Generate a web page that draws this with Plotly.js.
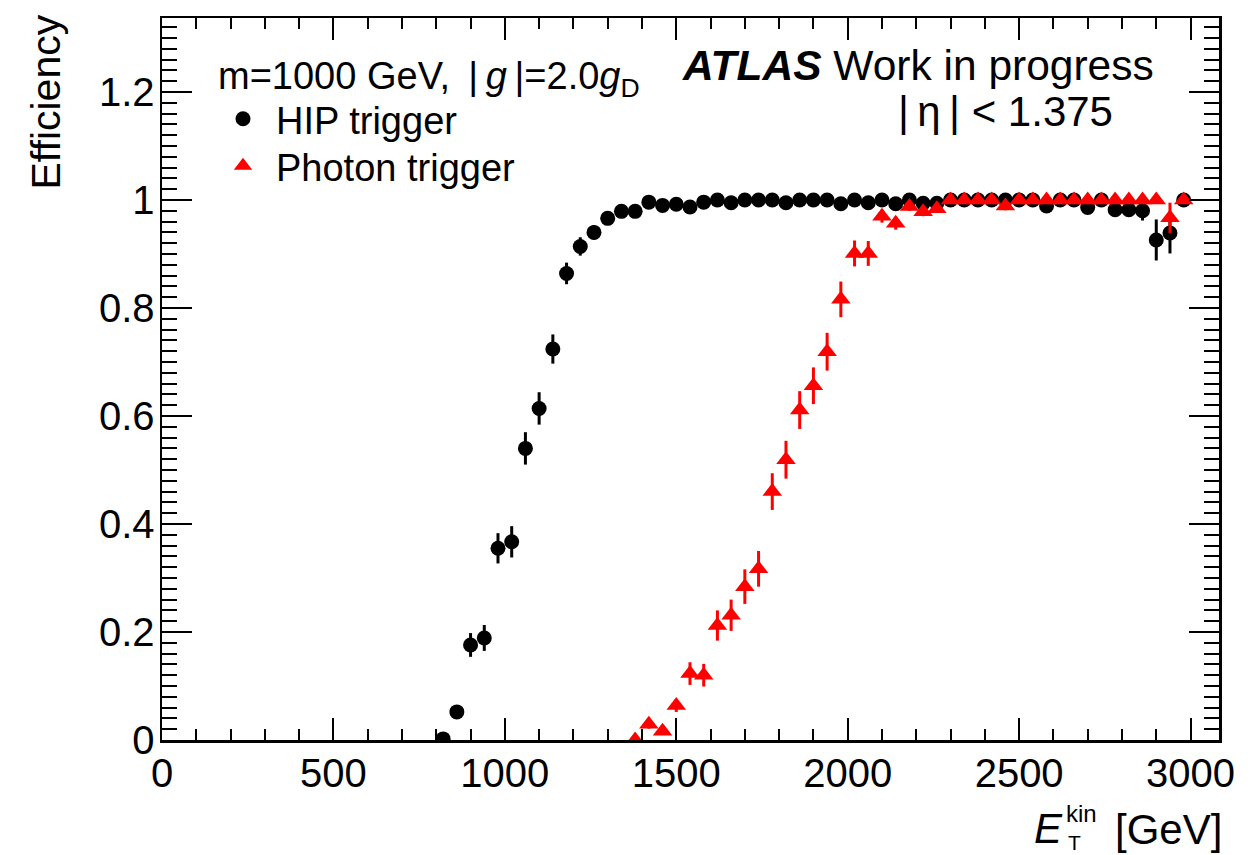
<!DOCTYPE html>
<html>
<head>
<meta charset="utf-8">
<script src="https://cdn.plot.ly/plotly-3.0.1.min.js"></script>
<style>html,body{margin:0;padding:0;background:#fff;}#plot{width:1258px;height:855px;}</style>
</head>
<body>
<div id="plot"></div>
<script>
// HIP trigger efficiency (bin centres in GeV)
const hipX = [820,860,900,940,980,1020,1060,1100,1140,1180,1220,1260,1300,1340,1380,1420,1460,1500,1540,1580,
  1620,1660,1700,1740,1780,1820,1860,1900,1940,1980,2020,2060,2100,2140,2180,2220,2260,2300,2340,2380,
  2420,2460,2500,2540,2580,2620,2660,2700,2740,2780,2820,2860,2900,2940,2980];
const hipY = [0.002,0.052,0.176,0.189,0.355,0.367,0.540,0.614,0.724,0.864,0.914,0.940,0.966,0.979,0.979,0.996,0.990,0.992,0.987,0.996,
  1.000,0.995,1.000,1.000,1.000,0.995,1.000,1.000,1.000,0.993,1.000,0.995,1.000,0.993,1.000,0.994,0.994,1.000,1.000,1.000,
  1.000,1.000,1.000,1.000,0.989,1.000,1.000,0.986,1.000,0.982,0.982,0.980,0.926,0.939,1.000];
const hipErr = [0.002,0.010,0.022,0.024,0.028,0.029,0.030,0.030,0.027,0.020,0.017,0.013,0.010,0.008,0.008,0.004,0.006,0.005,0.006,0.004,
  0.003,0.004,0.003,0.003,0.003,0.004,0.003,0.003,0.003,0.005,0.003,0.004,0.003,0.005,0.003,0.005,0.005,0.003,0.003,0.003,
  0.003,0.003,0.003,0.003,0.008,0.003,0.003,0.010,0.003,0.012,0.012,0.018,0.038,0.038,0.000];

// Photon trigger efficiency
const phoX = [1380,1420,1460,1500,1540,1580,1620,1660,1700,1740,1780,1820,1860,1900,1940,1980,2020,2060,2100,2140,
  2180,2220,2260,2300,2340,2380,2420,2460,2500,2540,2580,2620,2660,2700,2740,2780,2820,2860,2900,2940,2980];
const phoY = [0.000,0.029,0.016,0.064,0.123,0.120,0.212,0.231,0.284,0.317,0.460,0.519,0.611,0.656,0.719,0.816,0.901,0.901,0.970,0.957,
  0.988,0.978,0.984,1.000,1.000,1.000,1.000,0.989,1.000,1.000,1.000,1.000,1.000,1.000,1.000,1.000,1.000,1.000,1.000,0.967,1.000];
const phoErr = [0.000,0.008,0.006,0.012,0.021,0.021,0.028,0.029,0.032,0.033,0.034,0.035,0.035,0.034,0.035,0.033,0.024,0.023,0.012,0.012,
  0.008,0.008,0.008,0.002,0.002,0.002,0.002,0.008,0.002,0.002,0.002,0.002,0.002,0.002,0.002,0.002,0.002,0.002,0.002,0.028,0.000];

const xTickVals = [0,500,1000,1500,2000,2500,3000];
const yTickVals = [0,0.2,0.4,0.6,0.8,1,1.2];
const yTickText = ['0','0.2','0.4','0.6','0.8','1','1.2'];

const FONT = 'Liberation Sans, Arial, Helvetica, sans-serif';
const L = 162, R = 1219, T = 18, B = 740;
const px = v => (v - L) / (R - L);
const py = v => (B - v) / (B - T);

const traces = [
  {
    type: 'scatter', mode: 'markers', name: 'HIP trigger', legend: 'legend',
    x: hipX, y: hipY,
    error_y: {type: 'data', array: hipErr, visible: true, color: '#000', thickness: 3, width: 0},
    marker: {symbol: 'circle', size: 15, color: '#000'}
  },
  {
    type: 'scatter', mode: 'markers', name: 'Photon trigger', legend: 'legend2',
    x: phoX, y: phoY,
    error_y: {type: 'data', array: phoErr, visible: true, color: '#ff0000', thickness: 3, width: 0},
    marker: {symbol: 'triangle-up', size: 17, color: '#ff0000'}
  }
];

const axisCommon = {
  showline: true, linecolor: '#000', linewidth: 2.5, mirror: 'allticks',
  ticks: 'inside', tickcolor: '#000', tickwidth: 2,
  showgrid: false, zeroline: false,
  tickfont: {family: FONT, size: 40, color: '#000'}
};

const legendCommon = {
  xanchor: 'left', yanchor: 'middle',
  bgcolor: 'rgba(0,0,0,0)', borderwidth: 0,
  font: {family: FONT, size: 38, color: '#000'},
  itemwidth: 56, indentation: 0, tracegroupgap: 0
};

const layout = {
  width: 1258, height: 855,
  margin: {l: L, r: 1258 - R, t: T, b: 855 - B},
  paper_bgcolor: '#fff', plot_bgcolor: '#fff',
  showlegend: true,
  legend: Object.assign({}, legendCommon, {x: px(210), y: py(119)}),
  legend2: Object.assign({}, legendCommon, {x: px(210), y: py(166)}),
  xaxis: Object.assign({}, axisCommon, {
    range: [0, 3083], tickvals: xTickVals, ticklen: 22,
    minor: {dtick: 100, ticklen: 11, tickwidth: 2, tickcolor: '#000', ticks: 'inside'},
    ticklabelstandoff: -4
  }),
  yaxis: Object.assign({}, axisCommon, {
    range: [0, 1.337], tickvals: yTickVals, ticktext: yTickText, ticklen: 30,
    minor: {dtick: 0.02, ticklen: 15, tickwidth: 2, tickcolor: '#000', ticks: 'inside'},
    ticklabelstandoff: -3
  }),
  annotations: [
    {xref: 'paper', yref: 'paper', x: px(216), y: py(79), xanchor: 'left', yanchor: 'middle', showarrow: false,
     text: 'm=1000 GeV, \u2009|\u2009<i>g</i>\u2009|=2.0<i>g</i><sub>D</sub>', font: {family: FONT, size: 38, color: '#000'}},
    {xref: 'paper', yref: 'paper', x: px(680), y: py(65), xanchor: 'left', yanchor: 'middle', showarrow: false,
     text: '<b><i>ATLAS</i></b> Work in progress', font: {family: FONT, size: 42.5, color: '#000'}},
    {xref: 'paper', yref: 'paper', x: px(896), y: py(111), xanchor: 'left', yanchor: 'middle', showarrow: false,
     text: '|\u2009η\u2009| < 1.375', font: {family: FONT, size: 42, color: '#000'}},
    {xref: 'paper', yref: 'paper', x: px(46), y: py(13), xanchor: 'center', yanchor: 'top', showarrow: false,
     textangle: -90, text: 'Efficiency', font: {family: FONT, size: 41, color: '#000'}},
    {xref: 'paper', yref: 'paper', x: px(1065), y: py(828), xanchor: 'right', yanchor: 'middle', showarrow: false,
     text: '<i>E</i>', font: {family: FONT, size: 42, color: '#000'}},
    {xref: 'paper', yref: 'paper', x: px(1065), y: py(814), xanchor: 'left', yanchor: 'middle', showarrow: false,
     borderpad: 0, text: 'kin', font: {family: FONT, size: 24, color: '#000'}},
    {xref: 'paper', yref: 'paper', x: px(1067), y: py(842), xanchor: 'left', yanchor: 'middle', showarrow: false,
     borderpad: 0, text: 'T', font: {family: FONT, size: 21, color: '#000'}},
    {xref: 'paper', yref: 'paper', x: px(1224), y: py(829), xanchor: 'right', yanchor: 'middle', showarrow: false,
     text: '[GeV]', font: {family: FONT, size: 42, color: '#000'}}
  ]
};

Plotly.newPlot('plot', traces, layout, {displayModeBar: false, staticPlot: true});
</script>
</body>
</html>
